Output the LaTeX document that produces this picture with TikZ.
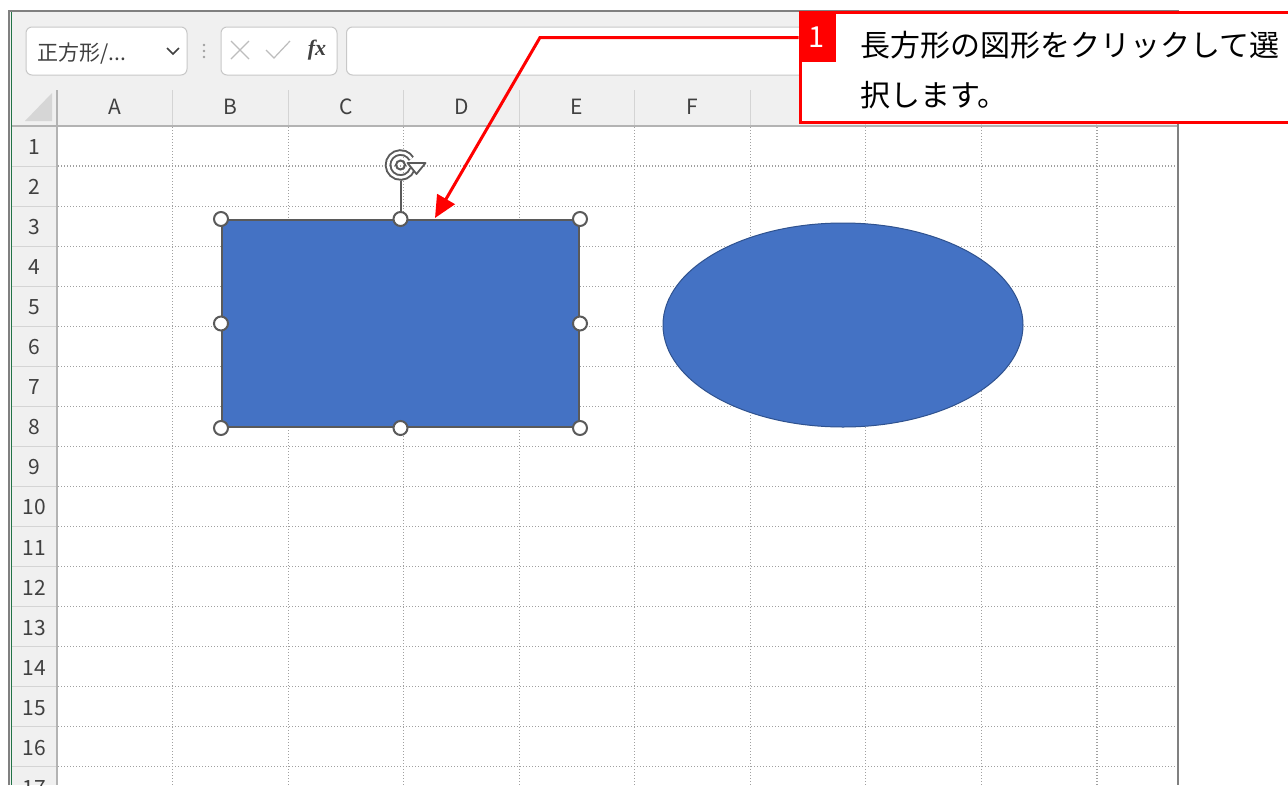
\documentclass[tikz,border=0pt]{standalone}
\usepackage{fontspec}
\setmainfont{Noto Sans CJK JP}
\newfontfamily\fxfont{Liberation Serif}
\usepackage{tikz}
\usetikzlibrary{arrows.meta,shapes.geometric,calc}
\definecolor{shapeblue}{HTML}{4472C4}
\definecolor{shapeedge}{HTML}{2F528F}
\definecolor{handlegray}{HTML}{5A5A5A}
\definecolor{headgray}{HTML}{F0F0F0}
\definecolor{sepgray}{HTML}{D4D4D4}
\definecolor{gridgray}{HTML}{A0A0A0}
\definecolor{framegray}{HTML}{808080}
\definecolor{boxgray}{HTML}{C8C8C8}
\definecolor{softgray}{HTML}{BDBDBD}
\definecolor{cornergray}{HTML}{D6D6D6}
\definecolor{labelgray}{HTML}{404040}
\definecolor{excelgreen}{HTML}{217346}
\definecolor{calloutred}{HTML}{FF0000}
\tikzset{
  grid line/.style={draw=gridgray, line width=1.2pt, dash pattern=on 1.2pt off 1.8pt},
  head line/.style={draw=sepgray, line width=1pt},
  head label/.style={text=labelgray, font=\fontsize{21}{21}\selectfont, inner sep=0pt},
  bar box/.style={draw=boxgray, fill=white, rounded corners=6pt, line width=1pt, inner sep=0pt},
  handle/.style={circle, draw=handlegray, fill=white, line width=2pt, minimum size=14pt, inner sep=0pt},
  red arrow/.style={draw=calloutred, line width=3pt, -{Triangle[length=22pt,width=20pt]}},
  msg/.style={anchor=base west, inner sep=0pt, font=\fontsize{30}{30}\selectfont},
}
\begin{document}
\begin{tikzpicture}[x=1pt,y=-1pt]
\useasboundingbox (0,0) rectangle (1288,785);
\begin{scope}
\clip (0,0) rectangle (1288,785);
\fill[white] (0,0) rectangle (1288,785);
\fill[headgray] (10,11) rectangle (1178,126);
\fill[headgray] (10,126) rectangle (57,785);
\foreach \i in {1,...,9} \draw[grid line] (57+115.55*\i,127) -- (57+115.55*\i,785);
\foreach \j in {1,...,16} \draw[grid line] (58,126+40.05*\j) -- (1177,126+40.05*\j);
\foreach \i in {1,...,9} \draw[head line] (57+115.55*\i,90) -- (57+115.55*\i,125);
\foreach \j in {1,...,16} \draw[head line] (11,126+40.05*\j) -- (56,126+40.05*\j);
\draw[draw=framegray!60, line width=1.5pt] (11,126) -- (1178,126);
\draw[draw=framegray!60, line width=1.5pt] (57,90) -- (57,785);
\fill[cornergray] (25,121) -- (52,121) -- (52,93) -- cycle;
\foreach \c [count=\i] in {A,...,F}
  \node[head label] (col-\c) at (57+115.55*\i-57.8,107) {\c};
\foreach \j in {1,...,17}
  \node[head label] (row-\j) at (34,126+40.05*\j-19) {\j};
\draw[framegray, line width=2pt] (9,785) -- (9,11) -- (1178,11) -- (1178,785);
\draw[excelgreen, line width=1pt] (11,12) -- (11,785);

\node[bar box, minimum width=161pt, minimum height=48pt] (namebox) at (106.5,51) {};
\node[anchor=west, inner sep=0pt, text=labelgray, font=\fontsize{21}{21}\selectfont] (nametext) at (37,54) {正方形/...};
\draw[labelgray, line width=1.5pt] (167,48) -- (173,54) -- (179,48);
\foreach \k in {-6,0,6} \fill[boxgray!80!black] (204,51+\k) circle (1.3pt);
\node[bar box, minimum width=116pt, minimum height=48pt] (fxbox) at (279,51) {};
\draw[softgray, line width=1.2pt] (231,41) -- (249,59) (231,59) -- (249,41);
\draw[softgray, line width=1.2pt] (266,50) -- (274,58) -- (290,41);
\node[inner sep=0pt, text=labelgray, font=\fxfont\bfseries\itshape\fontsize{22}{22}\selectfont] (fx) at (317,50) {fx};
\node[bar box, anchor=west, minimum width=826pt, minimum height=48pt] (formula) at (346,51) {};

\node[ellipse, draw=shapeedge, line width=1pt, fill=shapeblue, minimum width=360pt, minimum height=204pt] (oval) at (843,325) {};
\node[draw=handlegray, line width=2pt, fill=shapeblue, minimum width=357pt, minimum height=207pt, inner sep=0pt] (rect) at (400.5,323.5) {};
\foreach \a/\n in {north west/nw, north/n, north east/ne, west/w, east/e, south west/sw, south/s, south east/se}
  \node[handle] (h-\n) at (rect.\a) {};
\node[circle, minimum size=32pt, inner sep=0pt] (rot) at (400.5,165) {};
\draw[handlegray, line width=2pt] (rot.south) -- (h-n.north);
\draw[handlegray, line width=6.5pt] (rot.center) ++(20:12.5) arc[start angle=20, end angle=330, radius=12.5];
\draw[white, line width=2.6pt] (rot.center) ++(20:12.5) arc[start angle=20, end angle=330, radius=12.5];
\draw[handlegray, line width=2pt] (rot.center) circle (4.5pt);
\draw[handlegray, line width=1.8pt, fill=white, line join=round] ($(rot.center)+(7,-2)$) -- ($(rot.center)+(25,-2)$) -- ($(rot.center)+(16,9)$) -- cycle;

\node[draw=calloutred, line width=3pt, fill=white, anchor=north west, minimum width=520pt, minimum height=110pt, inner sep=0pt] (callout) at (798.5,11) {};
\node[fill=calloutred, text=white, minimum width=37pt, minimum height=48pt, inner sep=0pt, font=\fontsize{29}{29}\selectfont] (num) at (817,37.5) {1};
\node[msg] (msg1) at (860,56) {長方形の図形をクリックして選};
\node[msg] (msg2) at (860,106) {択します。};
\coordinate (bend) at (540,37.5);
\coordinate (tip) at (435,218);
\draw[red arrow] (callout.west |- num.center) -- (bend) -- (tip);
\end{scope}
\end{tikzpicture}
\end{document}
